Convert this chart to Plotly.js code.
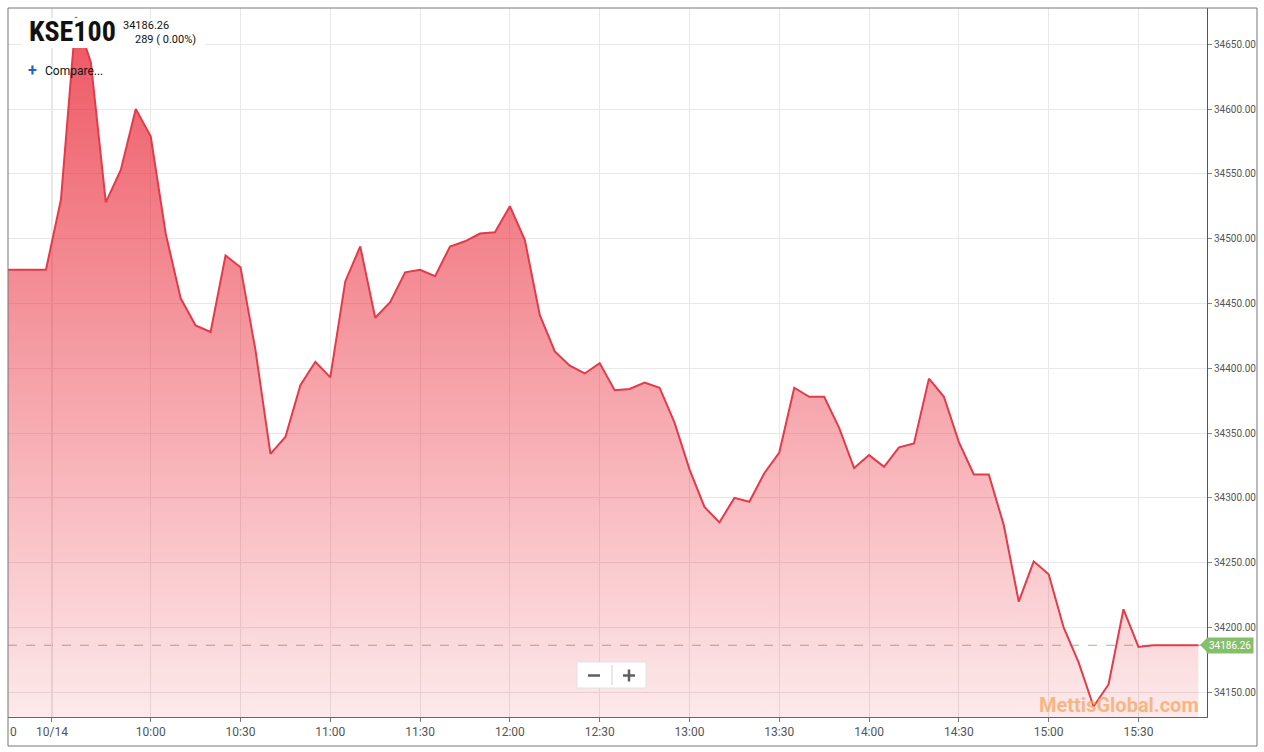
<!DOCTYPE html>
<html>
<head>
<meta charset="utf-8">
<script src="https://cdn.plot.ly/plotly-3.0.1.min.js"></script>
<style>
html,body{margin:0;padding:0;background:#fff;}
#chart{width:1264px;height:752px;}
</style>
</head>
<body>
<div id="chart"></div>
<script>
// ---- data ----
const times = [
 '09:10','09:15','09:20','09:25','09:30','09:35','09:40','09:45','09:50','09:55',
 '10:00','10:05','10:10','10:15','10:20','10:25','10:30','10:35','10:40','10:45',
 '10:50','10:55','11:00','11:05','11:10','11:15','11:20','11:25','11:30','11:35',
 '11:40','11:45','11:50','11:55','12:00','12:05','12:10','12:15','12:20','12:25',
 '12:30','12:35','12:40','12:45','12:50','12:55','13:00','13:05','13:10','13:15',
 '13:20','13:25','13:30','13:35','13:40','13:45','13:50','13:55','14:00','14:05',
 '14:10','14:15','14:20','14:25','14:30','14:35','14:40','14:45','14:50','14:55',
 '15:00','15:05','15:10','15:15','15:20','15:25','15:30','15:35','15:40','15:45','15:50'
];
const values = [
 34476,34476,34476,34476,34530,34671,34636,34528,34553,34600,
 34579,34504,34454,34433,34428,34487,34478,34414,34334,34347,
 34387,34405,34393,34467,34494,34439,34451,34474,34476,34471,
 34494,34498,34504,34505,34525,34499,34441,34413,34402,34396,
 34404,34383,34384,34389,34385,34358,34322,34293,34281,34300,
 34297,34319,34335,34385,34378,34378,34354,34323,34333,34324,
 34339,34342,34392,34378,34343,34318,34318,34279,34220,34251,
 34241,34200,34173,34139,34156,34214,34185,34186.26,34186.26,34186.26,34186.26
];
const tickTimes = ['09:27','10:00','10:30','11:00','11:30','12:00','12:30','13:00','13:30','14:00','14:30','15:00','15:30'];
const tickLabels = ['10/14','10:00','10:30','11:00','11:30','12:00','12:30','13:00','13:30','14:00','14:30','15:00','15:30'];
const lastPrice = 34186.26;
const changeText = '289 ( 0.00%)';

function toMin(s){const p=s.split(':');return (+p[0])*60+(+p[1]);}
const xs = times.map(toMin);
const tickVals = tickTimes.map(toMin);

const X0 = 552.32, X1 = 952.9, Y0 = 34130.9, Y1 = 34678.0;
// pixel helpers for overlays (plot area: x 8..1207, y 8..717)
const px = v => (v-8)/1199;
const py = v => (717-v)/709;

const trace = {
  x: xs, y: values, type: 'scatter', mode: 'lines',
  line: {color: '#e23b4b', width: 2},
  fill: 'tozeroy',
  fillgradient: {
    type: 'vertical', start: Y0, stop: Y1,
    colorscale: [[0, 'rgba(233,40,55,0.10)'], [1, 'rgba(233,40,55,0.80)']]
  },
  hoverinfo: 'skip', cliponaxis: true
};

const gridC = '#e8e8e8';
const btn = {color: '#5f5f5f', width: 2.5};
const layout = {
  width: 1264, height: 752,
  margin: {l: 8, r: 57, t: 8, b: 35},
  paper_bgcolor: '#ffffff', plot_bgcolor: '#ffffff',
  showlegend: false,
  font: {family: 'Roboto, sans-serif', color: '#555'},
  xaxis: {
    range: [X0, X1], tickvals: tickVals, ticktext: tickLabels,
    showgrid: true, gridcolor: gridC, gridwidth: 1,
    zeroline: false, showline: true, linecolor: '#666', linewidth: 1,
    ticks: 'outside', ticklen: 4, tickcolor: '#777',
    tickfont: {size: 12, color: '#555', family: 'Roboto, sans-serif'},
    fixedrange: true
  },
  yaxis: {
    range: [Y0, Y1], side: 'right', tick0: 34150, dtick: 50, tickformat: '.2f',
    showgrid: true, gridcolor: gridC, gridwidth: 1,
    zeroline: false, showline: true, linecolor: '#555', linewidth: 1,
    ticks: 'outside', ticklen: 4, tickcolor: '#888',
    tickfont: {size: 10, color: '#555', family: 'Roboto, sans-serif'},
    fixedrange: true
  },
  shapes: [
    {type: 'line', xref: 'x', yref: 'paper', x0: tickVals[0], x1: tickVals[0], y0: 0, y1: 1,
     line: {color: '#c9c9c9', width: 1}, layer: 'below'},
    {type: 'line', xref: 'paper', yref: 'y', x0: 0, x1: 1, y0: lastPrice, y1: lastPrice,
     line: {color: 'rgba(140,180,130,0.9)', width: 1, dash: 'dash'}, layer: 'below'},
    {type: 'rect', xref: 'paper', yref: 'paper', x0: 0, x1: px(1257), y0: py(746), y1: 1,
     line: {color: '#777', width: 1}, fillcolor: 'rgba(0,0,0,0)', layer: 'above'},
    {type: 'rect', xref: 'paper', yref: 'paper', x0: px(22), x1: px(205), y0: py(48), y1: py(18),
     line: {width: 0}, fillcolor: '#ffffff', layer: 'above'},
    {type: 'rect', xref: 'paper', yref: 'paper', x0: px(577), x1: px(646), y0: py(688), y1: py(662),
     line: {color: '#e2e2e2', width: 1}, fillcolor: '#ffffff', layer: 'above'},
    {type: 'line', xref: 'paper', yref: 'paper', x0: px(612), x1: px(612), y0: py(685), y1: py(665),
     line: {color: '#d0d0d0', width: 1}, layer: 'above'},
    // minus
    {type: 'line', xref: 'paper', yref: 'paper', x0: px(588), x1: px(600), y0: py(675.5), y1: py(675.5), line: btn, layer: 'above'},
    // plus
    {type: 'line', xref: 'paper', yref: 'paper', x0: px(623), x1: px(635), y0: py(675.5), y1: py(675.5), line: btn, layer: 'above'},
    {type: 'line', xref: 'paper', yref: 'paper', x0: px(629), x1: px(629), y0: py(669.5), y1: py(681.5), line: btn, layer: 'above'},
    {type: 'path', xref: 'paper', yref: 'paper',
     path: `M ${px(1200)},${py(645)} L ${px(1207)},${py(638)} L ${px(1207)},${py(652)} Z`,
     fillcolor: '#86bf6c', line: {width: 0}, layer: 'above'}
  ],
  annotations: [
    {xref: 'paper', yref: 'paper', x: px(27), y: py(32), xanchor: 'left', yanchor: 'middle',
     text: '<b>KSE100</b>', showarrow: false,
     font: {family: '"Liberation Sans Narrow", "Roboto Condensed", Roboto, sans-serif', size: 28, color: '#111'}},
    {xref: 'paper', yref: 'paper', x: px(121), y: py(26), xanchor: 'left', yanchor: 'middle',
     text: lastPrice.toFixed(2), showarrow: false,
     font: {family: 'Roboto, sans-serif', size: 11, color: '#111'}},
    {xref: 'paper', yref: 'paper', x: px(133), y: py(39), xanchor: 'left', yanchor: 'middle',
     text: changeText, showarrow: false,
     font: {family: 'Roboto, sans-serif', size: 11, color: '#111'}},
    {xref: 'paper', yref: 'paper', x: px(26), y: py(71), xanchor: 'left', yanchor: 'middle',
     text: '<b>+</b>', showarrow: false,
     font: {family: 'Roboto, sans-serif', size: 16, color: '#1e62c9'}},
    {xref: 'paper', yref: 'paper', x: px(43), y: py(71), xanchor: 'left', yanchor: 'middle',
     text: 'Compare...', showarrow: false,
     font: {family: 'Roboto, sans-serif', size: 12, color: '#111'}},
    {xref: 'paper', yref: 'paper', x: px(1201), y: py(705), xanchor: 'right', yanchor: 'middle',
     text: '<b>MettisGlobal.com</b>', showarrow: false,
     font: {family: 'Roboto, sans-serif', size: 20, color: 'rgba(245,165,95,0.75)'}},
    {xref: 'paper', yref: 'y', x: px(1206), y: lastPrice, xanchor: 'left', yanchor: 'middle',
     text: lastPrice.toFixed(2), showarrow: false, bgcolor: '#86bf6c', borderpad: 2,
     font: {family: 'Roboto, sans-serif', size: 10, color: '#ffffff'}},
    {xref: 'paper', yref: 'paper', x: 0, y: py(732), xanchor: 'left', yanchor: 'middle',
     text: '0', showarrow: false,
     font: {family: 'Roboto, sans-serif', size: 12, color: '#555'}}
  ]
};

Plotly.newPlot('chart', [trace], layout, {displayModeBar: false, staticPlot: true});
</script>
</body>
</html>
